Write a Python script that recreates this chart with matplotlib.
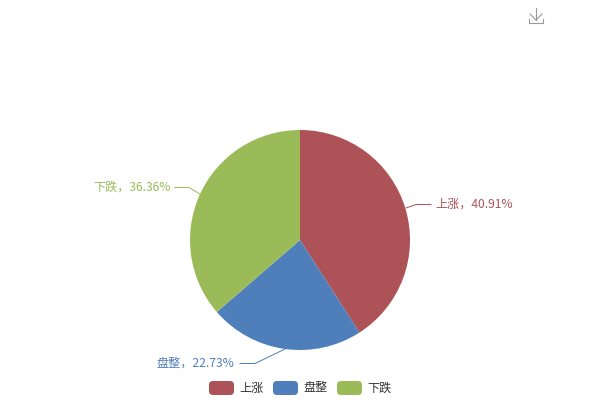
#!/usr/bin/env python3
"""Pie chart with outside labels, leader lines and a pill legend."""
import matplotlib
matplotlib.use("Agg")
import matplotlib.pyplot as plt
from matplotlib.patches import FancyBboxPatch

plt.rcParams["font.family"] = ["Noto Sans CJK SC", "DejaVu Sans"]

categories = ["上涨", "盘整", "下跌"]
shares = [40.91, 22.73, 36.36]
colors = ["#AD5257", "#4F7FBB", "#9BBB59"]

W, H = 600.0, 400.0
fig = plt.figure(figsize=(6, 4), dpi=100)
ax = fig.add_axes([0, 0, 1, 1])
ax.set_xlim(0, W)
ax.set_ylim(H, 0)          # y grows down, like the screenshot
ax.axis("off")

# the y axis is flipped, so counterclock=True runs clockwise on screen
ax.pie(shares, colors=colors, center=(300, 240), radius=110, startangle=-90,
       counterclock=True, frame=False)
ax.set_xlim(0, W)
ax.set_ylim(H, 0)
ax.set_aspect("auto")

FS = 8.7

# leader lines and labels
leaders = [
    ([406, 416, 431], [208, 204.5, 204.5]),
    ([285, 255, 240], [349, 363.5, 363.5]),
    ([200, 189, 175], [194, 187.5, 187.5]),
]
label_pos = [(435, 204.5, "left"), (234.5, 363, "right"), (170.5, 187.5, "right")]
for i, name in enumerate(categories):
    ax.plot(leaders[i][0], leaders[i][1], color=colors[i], lw=0.7)
    x, y, ha = label_pos[i]
    ax.text(x, y, f"{name}，{shares[i]:.2f}%", color=colors[i], fontsize=FS,
            ha=ha, va="center")

# legend
for i, name in enumerate(categories):
    x = 209 + 64 * i
    ax.add_patch(FancyBboxPatch((x, 381), 25, 14,
                                boxstyle="round,pad=0,rounding_size=4",
                                lw=0, fc=colors[i]))
    ax.text(x + 30, 388, name, color="#333333", fontsize=FS, ha="left",
            va="center")

# download icon
icon = "#999999"
ax.plot([536, 536], [8, 20], color=icon, lw=0.8)
ax.plot([530, 536, 542], [14, 20, 14], color=icon, lw=0.8)
ax.plot([529, 529, 543, 543], [19, 22.5, 22.5, 19], color=icon, lw=0.8)

fig.savefig("out.png", dpi=100, facecolor="white")
